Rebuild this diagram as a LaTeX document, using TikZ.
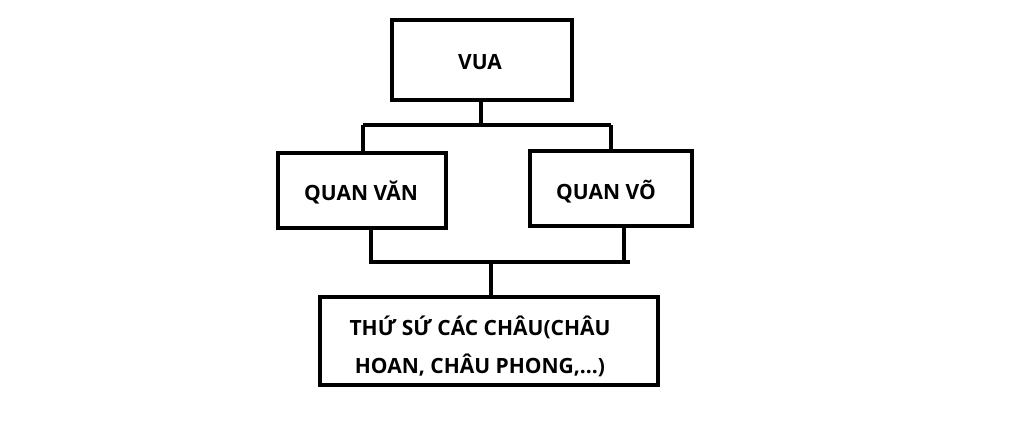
\documentclass[tikz,border=0pt]{standalone}
\usepackage{fontspec}
\setmainfont{Open Sans}
\begin{document}
\begin{tikzpicture}[x=1pt,y=-1pt,
  box/.style={draw,line width=3.3pt,inner sep=0pt},
  lbl/.style={font=\fontsize{21}{38}\selectfont\bfseries,align=center},
  conn/.style={line width=3.3pt}]
\useasboundingbox (0,0) rectangle (1024,429);
\node[box,minimum width=180pt,minimum height=80pt] (vua) at (482,60) {};
\node[lbl] at (480,62) {VUA};
\node[box,minimum width=168pt,minimum height=75pt] (van) at (362,190.5) {};
\node[lbl] at (361,192) {QUAN VĂN};
\node[box,minimum width=162pt,minimum height=75pt] (vo) at (611,188.5) {};
\node[lbl] at (606,192) {QUAN VÕ};
\node[box,minimum width=338pt,minimum height=88pt] (cs) at (489,341) {};
\node[lbl] at (480,346) {THỨ SỨ CÁC CHÂU(CHÂU\\HOAN, CHÂU PHONG,...)};
\coordinate (t1) at (481,125);
\coordinate (tl) at (363,125);
\coordinate (tr) at (611,125);
\coordinate (b1) at (491,262);
\coordinate (bl) at (369,262);
\coordinate (br) at (630,262);
\draw[conn] (vua.south -| t1) -- (t1);
\draw[conn] (tl) -- (tr);
\draw[conn] (tl) -- (tl |- van.north);
\draw[conn] (tr) -- (tr |- vo.north);
\draw[conn] (371,228) -- (371,262);
\draw[conn] (624,226) -- (624,262);
\draw[conn] (bl) -- (br);
\draw[conn] (b1) -- (b1 |- cs.north);
\end{tikzpicture}
\end{document}
